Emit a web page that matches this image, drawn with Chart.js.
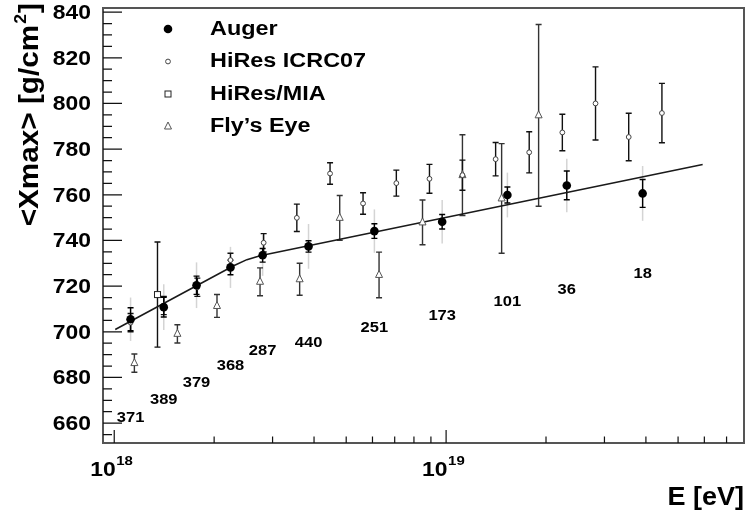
<!DOCTYPE html>
<html>
<head>
<meta charset="utf-8">
<script src="https://cdn.jsdelivr.net/npm/chart.js@4/dist/chart.umd.min.js"></script>
<style>
  html, body { margin: 0; padding: 0; background: #fff; }
  #wrap { width: 747px; height: 518px; }
</style>
</head>
<body>
<div id="wrap"><canvas id="c" width="747" height="518"></canvas></div>
<script>
// ---- Auger ----
const augerE     = [1.12e18, 1.41e18, 1.77e18, 2.24e18, 2.80e18, 3.85e18, 6.08e18, 9.73e18, 1.53e19, 2.31e19, 3.91e19];
const augerXmax  = [705.5, 710.8, 720.4, 728.2, 733.5, 737.4, 744.1, 748.2, 759.9, 764.1, 760.6];
const augerStat  = [5.0, 4.3, 4.0, 3.2, 3.0, 2.5, 3.2, 3.2, 3.5, 6.3, 6.1];
const augerSys   = [9.5, 10.0, 10.0, 9.0, 9.0, 9.8, 9.5, 9.5, 9.8, 11.7, 12.0];
const augerCounts = [371, 389, 379, 368, 287, 440, 251, 173, 101, 36, 18];
const countLabelXmax = [662.3, 670.2, 677.6, 685.1, 691.6, 695.1, 701.7, 706.9, 713.1, 718.3, 725.3];

// ---- HiRes ICRC07 ----
const hiresE    = [1.12e18, 1.41e18, 1.78e18, 2.24e18, 2.82e18, 3.55e18, 4.47e18, 5.62e18, 7.08e18, 8.91e18,
                   1.12e19, 1.41e19, 1.78e19, 2.24e19, 2.82e19, 3.55e19, 4.47e19];
const hiresXmax = [704.0, 711.5, 719.5, 731.4, 739.0, 749.9, 769.3, 756.2, 765.1, 767.0,
                   768.6, 775.6, 778.6, 787.3, 800.0, 785.3, 795.8];
const hiresErr  = [4.0, 4.0, 4.0, 3.0, 4.0, 6.0, 4.7, 4.7, 5.7, 6.3,
                   6.6, 7.3, 9.0, 8.0, 16.0, 10.4, 13.0];

// ---- HiRes/MIA ----
const miaE    = [1.35e18];
const miaXmax = [716.3];
const miaErr  = [23.0];

// ---- Fly's Eye ----
const flysE    = [1.15e18, 1.55e18, 2.04e18, 2.75e18, 3.62e18, 4.78e18, 6.28e18, 8.49e18, 1.12e19, 1.47e19, 1.90e19];
const flysXmax = [686.3, 699.1, 711.3, 721.9, 723.0, 749.9, 724.9, 747.9, 768.6, 758.4, 794.8];
const flysErr  = [4.0, 4.0, 5.0, 6.1, 7.0, 9.8, 10.0, 9.8, 17.7, 24.0, 39.8];

// ---- broken-line fit ----
const fitE    = [1.007e18, 2.29e18, 2.51e18, 2.75e18, 5.93e19];
const fitXmax = [701.0, 728.9, 731.6, 733.3, 773.3];

// ---- axis ticks ----
const yMajorTicks = [660, 680, 700, 720, 740, 760, 780, 800, 820, 840];
const yMinorTicks = [655, 665, 670, 675, 685, 690, 695, 705, 710, 715, 725, 730, 735, 745, 750, 755,
                     765, 770, 775, 785, 790, 795, 805, 810, 815, 825, 830, 835];
const xMajorTicks = [1e18, 1e19];
const xMajorExp   = ['18', '19'];
const xMinorTicks = [2e18, 3e18, 4e18, 5e18, 6e18, 7e18, 8e18, 9e18, 2e19, 3e19, 4e19, 5e19, 6e19, 7e19];

const FONT = '"Liberation Sans", Arial, Helvetica, sans-serif';

function pts(xs, ys) { return xs.map((x, i) => ({ x: x, y: ys[i] })); }

function drawText(ctx, str, x, y, size, align, baseline, stretch) {
  ctx.save();
  ctx.translate(x, y);
  ctx.scale(stretch || 1, 1);
  ctx.font = 'bold ' + size + 'px ' + FONT;
  ctx.textAlign = align;
  ctx.textBaseline = baseline;
  ctx.fillStyle = '#000';
  ctx.fillText(str, 0, 0);
  ctx.restore();
}

function drawMarker(ctx, kind, x, y) {
  ctx.save();
  ctx.lineWidth = 1;
  if (kind === 'auger') {
    ctx.fillStyle = '#000';
    ctx.beginPath(); ctx.arc(x, y, 4.3, 0, Math.PI * 2); ctx.fill();
  } else if (kind === 'hires') {
    ctx.strokeStyle = '#444'; ctx.fillStyle = '#fff';
    ctx.beginPath(); ctx.arc(x, y, 2.4, 0, Math.PI * 2); ctx.fill(); ctx.stroke();
  } else if (kind === 'mia') {
    ctx.strokeStyle = '#222'; ctx.fillStyle = '#fff';
    ctx.fillRect(x - 3, y - 3, 6, 6); ctx.strokeRect(x - 3, y - 3, 6, 6);
  } else if (kind === 'flys') {
    ctx.strokeStyle = '#555'; ctx.fillStyle = '#fff';
    ctx.beginPath(); ctx.moveTo(x, y - 4.5); ctx.lineTo(x + 3.5, y + 2.5); ctx.lineTo(x - 3.5, y + 2.5);
    ctx.closePath(); ctx.fill(); ctx.stroke();
  }
  ctx.restore();
}

// error bars, frame, ticks, labels and legend
const decorPlugin = {
  id: 'decor',
  beforeDatasetsDraw(chart) {
    const ctx = chart.ctx, xs = chart.scales.x, ys = chart.scales.y, a = chart.chartArea;
    ctx.save();
    ctx.beginPath(); ctx.rect(a.left, a.top, a.right - a.left, a.bottom - a.top); ctx.clip();
    // systematic bands of Auger (light grey)
    ctx.strokeStyle = '#d4d4d4'; ctx.lineWidth = 1.5;
    augerE.forEach((e, i) => {
      const px = xs.getPixelForValue(e);
      ctx.beginPath();
      ctx.moveTo(px, ys.getPixelForValue(augerXmax[i] - augerSys[i]));
      ctx.lineTo(px, ys.getPixelForValue(augerXmax[i] + augerSys[i]));
      ctx.stroke();
    });
    const bars = (E, V, Err, color) => {
      ctx.strokeStyle = color; ctx.lineWidth = 1.4;
      E.forEach((e, i) => {
        const px = xs.getPixelForValue(e);
        const lo = ys.getPixelForValue(V[i] - Err[i]);
        const hi = ys.getPixelForValue(V[i] + Err[i]);
        ctx.beginPath();
        ctx.moveTo(px, lo); ctx.lineTo(px, hi);
        ctx.moveTo(px - 3, lo); ctx.lineTo(px + 3, lo);
        ctx.moveTo(px - 3, hi); ctx.lineTo(px + 3, hi);
        ctx.stroke();
      });
    };
    bars(flysE, flysXmax, flysErr, '#333');
    bars(miaE, miaXmax, miaErr, '#111');
    bars(hiresE, hiresXmax, hiresErr, '#111');
    bars(augerE, augerXmax, augerStat, '#000');
    ctx.restore();
  },
  afterDatasetsDraw(chart) {
    const ctx = chart.ctx, xs = chart.scales.x, ys = chart.scales.y, a = chart.chartArea;
    // markers
    const kinds = ['flys', 'mia', 'hires', 'auger'];
    const sets = { flys: [flysE, flysXmax], mia: [miaE, miaXmax], hires: [hiresE, hiresXmax], auger: [augerE, augerXmax] };
    kinds.forEach(k => {
      const [E, V] = sets[k];
      E.forEach((e, i) => drawMarker(ctx, k, xs.getPixelForValue(e), ys.getPixelForValue(V[i])));
    });

    // event counts under Auger points
    augerCounts.forEach((n, i) => {
      drawText(ctx, String(n), xs.getPixelForValue(augerE[i]), ys.getPixelForValue(countLabelXmax[i]),
               14, 'center', 'middle', 1.18);
    });

    // frame
    ctx.save();
    ctx.strokeStyle = '#555'; ctx.lineWidth = 2;
    ctx.strokeRect(a.left, a.top, a.right - a.left, a.bottom - a.top);
    ctx.strokeStyle = '#111'; ctx.lineWidth = 1.2;
    ctx.beginPath();
    yMajorTicks.forEach(v => { const py = ys.getPixelForValue(v); ctx.moveTo(a.left, py); ctx.lineTo(a.left + 19, py); });
    yMinorTicks.forEach(v => { const py = ys.getPixelForValue(v); ctx.moveTo(a.left, py); ctx.lineTo(a.left + 9, py); });
    xMajorTicks.forEach(v => { const px = xs.getPixelForValue(v); ctx.moveTo(px, a.bottom); ctx.lineTo(px, a.bottom - 13); });
    xMinorTicks.forEach(v => { const px = xs.getPixelForValue(v); ctx.moveTo(px, a.bottom); ctx.lineTo(px, a.bottom - 6.5); });
    ctx.stroke();
    ctx.restore();

    // y tick labels
    yMajorTicks.forEach(v => drawText(ctx, String(v), a.left - 12, ys.getPixelForValue(v) + 1, 21, 'right', 'middle', 1.09));
    // x tick labels with exponent
    xMajorTicks.forEach((v, i) => {
      const px = xs.getPixelForValue(v);
      drawText(ctx, '10', px - 24, 476, 21, 'left', 'alphabetic', 1.09);
      drawText(ctx, xMajorExp[i], px + 2, 465, 13, 'left', 'alphabetic', 1.15);
    });

    // axis titles
    drawText(ctx, 'E [eV]', a.right, 505, 25, 'right', 'alphabetic', 1.08);
    ctx.save();
    ctx.translate(38, 3);
    ctx.rotate(-Math.PI / 2);
    ctx.scale(1.1, 1);
    ctx.font = 'bold 27px ' + FONT;
    const wEnd = ctx.measureText(']').width;
    ctx.font = 'bold 16px ' + FONT;
    const wSup = ctx.measureText('2').width;
    ctx.font = 'bold 27px ' + FONT;
    const main = '<Xmax> [g/cm';
    const wMain = ctx.measureText(main).width;
    const x0 = -(wMain + wSup + wEnd + 2);
    ctx.fillStyle = '#000'; ctx.textBaseline = 'alphabetic'; ctx.textAlign = 'left';
    ctx.fillText(main, x0, 0);
    ctx.font = 'bold 16px ' + FONT;
    ctx.fillText('2', x0 + wMain + 1, -12);
    ctx.font = 'bold 27px ' + FONT;
    ctx.fillText(']', x0 + wMain + wSup + 2, 0);
    ctx.restore();

    // legend
    const legend = [['auger', 'Auger'], ['hires', 'HiRes ICRC07'], ['mia', 'HiRes/MIA'], ['flys', "Fly\u2019s Eye"]];
    legend.forEach((item, i) => {
      const y = 29 + i * 32.5;
      drawMarker(ctx, item[0], 168, y);
      drawText(ctx, item[1], 210, y, 20, 'left', 'middle', 1.17);
    });
  }
};

const ctxEl = document.getElementById('c');
new Chart(ctxEl, {
  type: 'scatter',
  data: {
    datasets: [
      { type: 'line', label: 'fit', data: pts(fitE, fitXmax), borderColor: '#1a1a1a', borderWidth: 1.6,
        pointRadius: 0, fill: false, tension: 0, order: 5 },
      { label: 'Auger', data: pts(augerE, augerXmax), pointRadius: 0, showLine: false },
      { label: 'HiRes ICRC07', data: pts(hiresE, hiresXmax), pointRadius: 0, showLine: false },
      { label: 'HiRes/MIA', data: pts(miaE, miaXmax), pointRadius: 0, showLine: false },
      { label: "Fly's Eye", data: pts(flysE, flysXmax), pointRadius: 0, showLine: false }
    ]
  },
  options: {
    responsive: false,
    animation: false,
    devicePixelRatio: 1,
    layout: { padding: { top: 8, right: 3, left: 0, bottom: 0 } },
    plugins: { legend: { display: false }, tooltip: { enabled: false } },
    scales: {
      x: {
        type: 'logarithmic', min: 9.25e17, max: 7.9e19,
        grid: { display: false }, border: { display: false },
        ticks: { display: false },
        afterBuildTicks: s => { s.ticks = xMajorTicks.map(v => ({ value: v })); },
        afterFit: s => { s.height = 75; }
      },
      y: {
        type: 'linear', min: 651.3, max: 841.8,
        grid: { display: false }, border: { display: false },
        ticks: { display: false },
        afterBuildTicks: s => { s.ticks = yMajorTicks.map(v => ({ value: v })); },
        afterFit: s => { s.width = 103; }
      }
    }
  },
  plugins: [decorPlugin]
});
</script>
</body>
</html>
